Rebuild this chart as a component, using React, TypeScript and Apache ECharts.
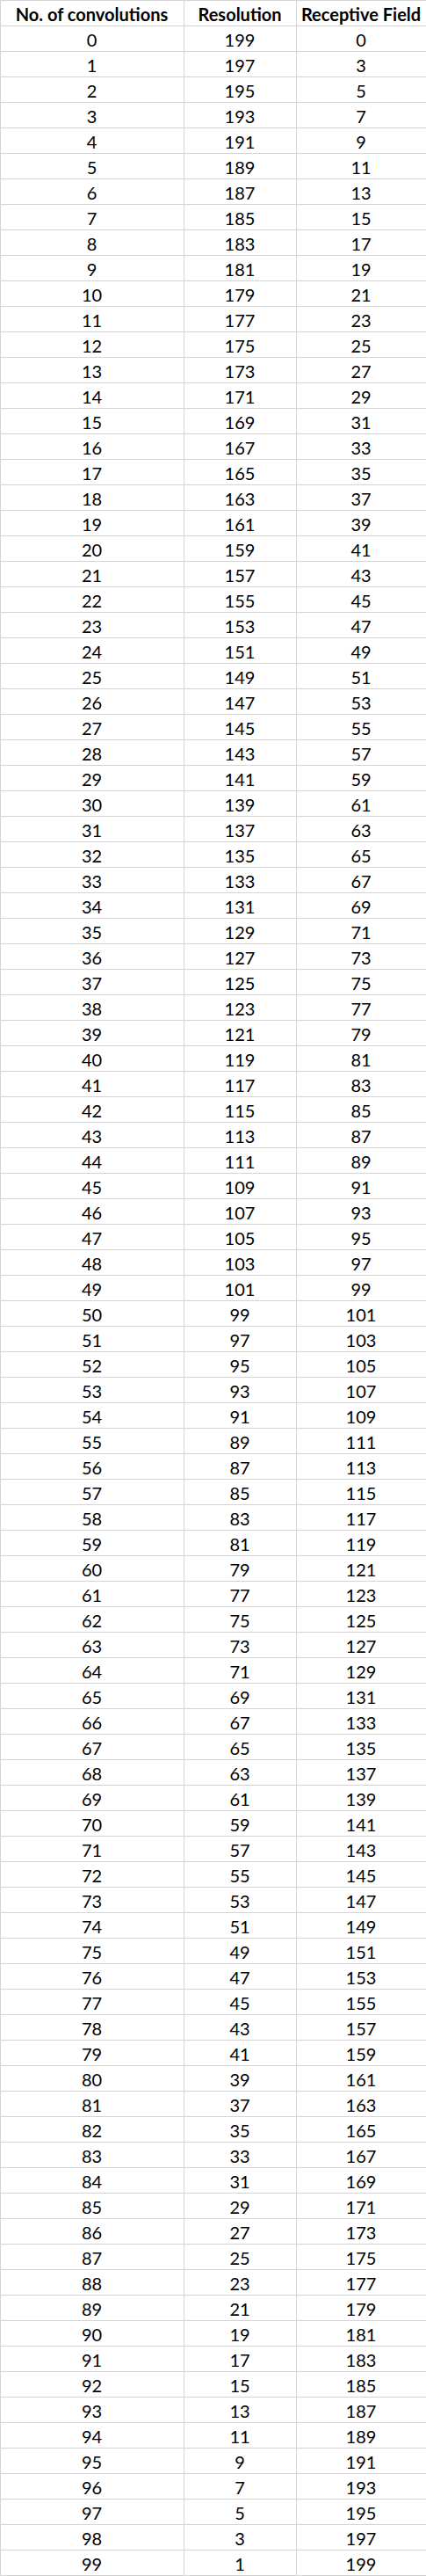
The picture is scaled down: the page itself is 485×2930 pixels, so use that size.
import React, { useEffect, useRef } from "react";
import * as echarts from "echarts";

const headers = ["No. of convolutions", "Resolution", "Receptive Field"];
const convolutions = [0,1,2,3,4,5,6,7,8,9,10,11,12,13,14,15,16,17,18,19,20,21,22,23,24,25,26,27,28,29,30,31,32,33,34,35,36,37,38,39,40,41,42,43,44,45,46,47,48,49,50,51,52,53,54,55,56,57,58,59,60,61,62,63,64,65,66,67,68,69,70,71,72,73,74,75,76,77,78,79,80,81,82,83,84,85,86,87,88,89,90,91,92,93,94,95,96,97,98,99];
const resolution = [199,197,195,193,191,189,187,185,183,181,179,177,175,173,171,169,167,165,163,161,159,157,155,153,151,149,147,145,143,141,139,137,135,133,131,129,127,125,123,121,119,117,115,113,111,109,107,105,103,101,99,97,95,93,91,89,87,85,83,81,79,77,75,73,71,69,67,65,63,61,59,57,55,53,51,49,47,45,43,41,39,37,35,33,31,29,27,25,23,21,19,17,15,13,11,9,7,5,3,1];
const receptiveField = [0,3,5,7,9,11,13,15,17,19,21,23,25,27,29,31,33,35,37,39,41,43,45,47,49,51,53,55,57,59,61,63,65,67,69,71,73,75,77,79,81,83,85,87,89,91,93,95,97,99,101,103,105,107,109,111,113,115,117,119,121,123,125,127,129,131,133,135,137,139,141,143,145,147,149,151,153,155,157,159,161,163,165,167,169,171,173,175,177,179,181,183,185,187,189,191,193,195,197,199];

const colEdges = [0, 209, 337, 485];

export default function App() {
  const ref = useRef<HTMLDivElement>(null);
  useEffect(() => {
    document.body.style.margin = "0";
    const chart = echarts.init(ref.current!, null, { renderer: "svg" });
    const cols = [convolutions, resolution, receptiveField];
    const data: any[] = [];
    headers.forEach((h, c) => data.push([c, 0, h, 1]));
    cols.forEach((arr, c) => arr.forEach((v, r) => data.push([c, r + 1, String(v), 0])));
    chart.setOption({
      animation: false,
      grid: { left: 0, right: 0, top: 0, bottom: 1 },
      xAxis: { type: "value", min: 0, max: 485, show: false },
      yAxis: { type: "value", min: 0, max: 101, inverse: true, show: false },
      series: [{
        type: "custom",
        data,
        renderItem: (params: any, api: any) => {
          const c = api.value(0);
          const r = api.value(1);
          const p0 = api.coord([colEdges[c], r]);
          const p1 = api.coord([colEdges[c + 1], r + 1]);
          const bold = api.value(3) === 1;
          return {
            type: "group",
            children: [
              { type: "rect", shape: { x: p0[0] + 0.5, y: p0[1] + 0.5, width: p1[0] - p0[0], height: p1[1] - p0[1] },
                style: { fill: "#fff", stroke: "#d4d4d4", lineWidth: 1 } },
              { type: "text", x: (p0[0] + p1[0]) / 2, y: (p0[1] + p1[1]) / 2 + 1,
                style: { text: data[params.dataIndex][2], fill: "#000", align: "center", verticalAlign: "middle",
                  font: `${bold ? "bold " : ""}20px Lato, 'Noto Sans', sans-serif` } },
            ],
          };
        },
      }],
    });
    return () => chart.dispose();
  }, []);
  return <div ref={ref} style={{ position: "absolute", left: 0, top: 0, width: 485, height: 2930 }} />;
}
